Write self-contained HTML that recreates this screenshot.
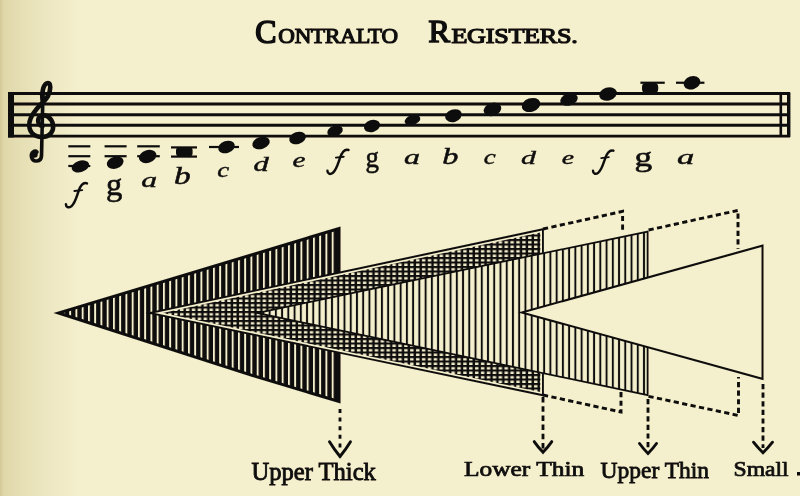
<!DOCTYPE html>
<html><head><meta charset="utf-8"><style>
html,body{margin:0;padding:0;width:800px;height:496px;overflow:hidden;background:#F4EFCD;}
svg{display:block;font-family:"Liberation Serif",serif;}
</style></head><body>
<svg width="800" height="496" viewBox="0 0 800 496"><defs>
<filter id="soft" x="-2%" y="-2%" width="104%" height="104%"><feGaussianBlur stdDeviation="0.4"/></filter>
<filter id="blur"><feGaussianBlur stdDeviation="0.8"/></filter>
<linearGradient id="lg" x1="0" x2="1" y1="0" y2="0">
 <stop offset="0" stop-color="#D3C896"/>
 <stop offset="0.05" stop-color="#E0D8AA"/>
 <stop offset="0.3" stop-color="#E7E0B6"/>
 <stop offset="0.6" stop-color="#EDE7C2"/>
 <stop offset="1" stop-color="#F4EFCD"/>
</linearGradient>
<pattern id="pThick" patternUnits="userSpaceOnUse" width="6.25" height="10" x="0.45">
 <rect x="-0.1" width="2.0" height="10" fill="#F4EFCD"/>
</pattern>
<pattern id="pCross" patternUnits="userSpaceOnUse" width="5.9" height="4.5" x="3.94" y="0.5">
 <rect width="5.9" height="4.5" fill="#F4EFCD"/>
 <rect x="2.5" width="2.5" height="4.5" fill="#0F0C0B"/>
 <rect width="5.9" height="2.1" fill="#0F0C0B"/>
</pattern>
<pattern id="pThin" patternUnits="userSpaceOnUse" width="6.24" height="10" x="3.94">
 <rect width="6.24" height="10" fill="#F4EFCD"/>
 <rect x="2.6" width="1.95" height="10" fill="#0F0C0B"/>
</pattern>
</defs>
<rect width="800" height="496" fill="#F4EFCD"/>
<rect width="80" height="496" fill="url(#lg)"/>
<g filter="url(#soft)">
<line x1="8" y1="93.5" x2="790" y2="93.5" stroke="#0F0C0B" stroke-width="2.9"/>
<line x1="8" y1="104" x2="790" y2="104" stroke="#0F0C0B" stroke-width="2.9"/>
<line x1="8" y1="114.8" x2="790" y2="114.8" stroke="#0F0C0B" stroke-width="2.9"/>
<line x1="8" y1="125.2" x2="790" y2="125.2" stroke="#0F0C0B" stroke-width="2.9"/>
<line x1="8" y1="136.1" x2="790" y2="136.1" stroke="#0F0C0B" stroke-width="2.9"/>
<rect x="8" y="92" width="6" height="45.5" fill="#0F0C0B"/>
<rect x="779.5" y="92.5" width="2.6" height="44.5" fill="#0F0C0B"/>
<rect x="787" y="92.5" width="3.4" height="44.5" fill="#0F0C0B"/>
<path d="M42.5 100 C41 92 44 83 48 83 C51 83 51 90 48 96 C44 103 32 110 29.5 122 C28 132 34 137 42 137 C50 137 54 131 53 125 C52 118 46 114 41 116 C37 118 37 125 42.5 126" fill="none" stroke="#0F0C0B" stroke-width="4.6" stroke-linecap="round"/>
<path d="M43 91 L41.5 156 C41 162 33 163 31.5 157 C30.5 152 35 150 37 152" fill="none" stroke="#0F0C0B" stroke-width="3.6" stroke-linecap="round"/>
<circle cx="34.5" cy="154.5" r="3.2" fill="#0F0C0B"/>
<circle cx="42.5" cy="125" r="2.2" fill="#0F0C0B"/>
<ellipse cx="80.4" cy="166.4" rx="9" ry="5.6" fill="#0F0C0B" transform="rotate(-18 80.4 166.4)"/>
<ellipse cx="115.2" cy="162.6" rx="8.6" ry="6" fill="#0F0C0B" transform="rotate(-18 115.2 162.6)"/>
<ellipse cx="147.7" cy="156.5" rx="9" ry="6.3" fill="#0F0C0B" transform="rotate(-18 147.7 156.5)"/>
<rect x="176" y="147" width="16.6" height="9.6" rx="3.5" fill="#0F0C0B"/>
<ellipse cx="226.5" cy="147" rx="8.5" ry="6" fill="#0F0C0B" transform="rotate(-18 226.5 147)"/>
<ellipse cx="261" cy="143" rx="9" ry="6" fill="#0F0C0B" transform="rotate(-18 261 143)"/>
<ellipse cx="297.5" cy="138" rx="8.5" ry="6" fill="#0F0C0B" transform="rotate(-18 297.5 138)"/>
<ellipse cx="335" cy="131" rx="8" ry="5.2" fill="#0F0C0B" transform="rotate(-18 335 131)"/>
<ellipse cx="372" cy="126" rx="8.3" ry="6" fill="#0F0C0B" transform="rotate(-18 372 126)"/>
<ellipse cx="412.5" cy="120" rx="8" ry="5" fill="#0F0C0B" transform="rotate(-18 412.5 120)"/>
<ellipse cx="453.5" cy="115.7" rx="8.5" ry="6.3" fill="#0F0C0B" transform="rotate(-18 453.5 115.7)"/>
<ellipse cx="492.5" cy="109.4" rx="9" ry="6.5" fill="#0F0C0B" transform="rotate(-18 492.5 109.4)"/>
<ellipse cx="531" cy="105" rx="9.5" ry="6.8" fill="#0F0C0B" transform="rotate(-18 531 105)"/>
<ellipse cx="569" cy="99.5" rx="9" ry="6" fill="#0F0C0B" transform="rotate(-18 569 99.5)"/>
<ellipse cx="608" cy="94" rx="9" ry="6.5" fill="#0F0C0B" transform="rotate(-18 608 94)"/>
<rect x="642" y="83" width="16.2" height="10" rx="4" fill="#0F0C0B"/>
<ellipse cx="692" cy="82.75" rx="8.5" ry="6.5" fill="#0F0C0B" transform="rotate(-18 692 82.75)"/>
<line x1="68.3" y1="146.3" x2="90.3" y2="146.3" stroke="#0F0C0B" stroke-width="2.2"/>
<line x1="68.3" y1="156.2" x2="90.3" y2="156.2" stroke="#0F0C0B" stroke-width="2.2"/>
<line x1="68.3" y1="166" x2="90.3" y2="166" stroke="#0F0C0B" stroke-width="2.2"/>
<line x1="104.6" y1="146.3" x2="126.6" y2="146.3" stroke="#0F0C0B" stroke-width="2.2"/>
<line x1="104.6" y1="156.2" x2="126.6" y2="156.2" stroke="#0F0C0B" stroke-width="2.2"/>
<line x1="137.2" y1="146.3" x2="159.8" y2="146.3" stroke="#0F0C0B" stroke-width="2.2"/>
<line x1="137.2" y1="156.2" x2="159.8" y2="156.2" stroke="#0F0C0B" stroke-width="2.2"/>
<line x1="171" y1="147.4" x2="197" y2="147.4" stroke="#0F0C0B" stroke-width="2.2"/>
<line x1="171" y1="156.6" x2="197" y2="156.6" stroke="#0F0C0B" stroke-width="2.2"/>
<line x1="209" y1="147" x2="239" y2="147" stroke="#0F0C0B" stroke-width="2.2"/>
<line x1="640.4" y1="82.75" x2="664.75" y2="82.75" stroke="#0F0C0B" stroke-width="2.2"/>
<line x1="676" y1="82.75" x2="704.4" y2="82.75" stroke="#0F0C0B" stroke-width="2.2"/>
<text x="0" y="0" font-size="100" font-family="Liberation Serif" stroke="#0F0C0B" stroke-width="2" fill="#0F0C0B" transform="matrix(0.32609 0 0 0.31467 106.022 194.677)">g</text>
<text x="0" y="0" font-size="100" font-family="Liberation Serif" font-style="italic" stroke="#0F0C0B" stroke-width="2" fill="#0F0C0B" transform="matrix(0.31667 0 0 0.21000 141.367 186.580)">a</text>
<text x="0" y="0" font-size="100" font-family="Liberation Serif" font-style="italic" stroke="#0F0C0B" stroke-width="2" fill="#0F0C0B" transform="matrix(0.33333 0 0 0.25000 174.000 183.500)">b</text>
<text x="0" y="0" font-size="100" font-family="Liberation Serif" font-style="italic" stroke="#0F0C0B" stroke-width="2" fill="#0F0C0B" transform="matrix(0.26786 0 0 0.20400 217.214 177.292)">c</text>
<text x="0" y="0" font-size="100" font-family="Liberation Serif" font-style="italic" stroke="#0F0C0B" stroke-width="2" fill="#0F0C0B" transform="matrix(0.30612 0 0 0.20833 253.388 170.583)">d</text>
<text x="0" y="0" font-size="100" font-family="Liberation Serif" font-style="italic" stroke="#0F0C0B" stroke-width="2" fill="#0F0C0B" transform="matrix(0.29268 0 0 0.22000 292.415 166.560)">e</text>
<text x="0" y="0" font-size="100" font-family="Liberation Serif" stroke="#0F0C0B" stroke-width="2" fill="#0F0C0B" transform="matrix(0.26957 0 0 0.28400 365.391 166.752)">g</text>
<text x="0" y="0" font-size="100" font-family="Liberation Serif" font-style="italic" stroke="#0F0C0B" stroke-width="2" fill="#0F0C0B" transform="matrix(0.32000 0 0 0.20700 404.060 164.336)">a</text>
<text x="0" y="0" font-size="100" font-family="Liberation Serif" font-style="italic" stroke="#0F0C0B" stroke-width="2" fill="#0F0C0B" transform="matrix(0.32222 0 0 0.22778 442.233 163.544)">b</text>
<text x="0" y="0" font-size="100" font-family="Liberation Serif" font-style="italic" stroke="#0F0C0B" stroke-width="2" fill="#0F0C0B" transform="matrix(0.26905 0 0 0.20700 483.862 164.186)">c</text>
<text x="0" y="0" font-size="100" font-family="Liberation Serif" font-style="italic" stroke="#0F0C0B" stroke-width="2" fill="#0F0C0B" transform="matrix(0.30000 0 0 0.18889 521.100 164.222)">d</text>
<text x="0" y="0" font-size="100" font-family="Liberation Serif" font-style="italic" stroke="#0F0C0B" stroke-width="2" fill="#0F0C0B" transform="matrix(0.27683 0 0 0.19500 561.846 163.610)">e</text>
<text x="0" y="0" font-size="100" font-family="Liberation Serif" stroke="#0F0C0B" stroke-width="2" fill="#0F0C0B" transform="matrix(0.35326 0 0 0.28000 634.440 165.840)">g</text>
<text x="0" y="0" font-size="100" font-family="Liberation Serif" font-style="italic" stroke="#0F0C0B" stroke-width="2" fill="#0F0C0B" transform="matrix(0.34556 0 0 0.20700 677.059 164.186)">a</text>
<text x="0" y="0" font-size="100" font-family="Liberation Serif" stroke="#0F0C0B" stroke-width="5" fill="#0F0C0B" transform="matrix(0.31774 0 0 0.33333 255.365 42.967)">C</text>
<text x="0" y="0" font-size="100" font-family="Liberation Serif" stroke="#0F0C0B" stroke-width="5.5" letter-spacing="-1" fill="#0F0C0B" transform="matrix(0.22973 0 0 0.21507 278.370 42.540)">ONTRALTO</text>
<text x="0" y="0" font-size="100" font-family="Liberation Serif" stroke="#0F0C0B" stroke-width="5" fill="#0F0C0B" transform="matrix(0.32174 0 0 0.31857 428.500 41.944)">R</text>
<text x="0" y="0" font-size="100" font-family="Liberation Serif" stroke="#0F0C0B" stroke-width="5.5" letter-spacing="-1" fill="#0F0C0B" transform="matrix(0.26146 0 0 0.21781 451.400 42.811)">EGISTERS.</text>
<text x="0" y="0" font-size="100" font-family="Liberation Serif" stroke="#0F0C0B" stroke-width="3.5" fill="#0F0C0B" transform="matrix(0.24537 0 0 0.24574 251.600 479.948)">Upper Thick</text>
<text x="0" y="0" font-size="100" font-family="Liberation Serif" stroke="#0F0C0B" stroke-width="3.5" fill="#0F0C0B" transform="matrix(0.25434 0 0 0.20068 463.996 476.148)">Lower Thin</text>
<text x="0" y="0" font-size="100" font-family="Liberation Serif" stroke="#0F0C0B" stroke-width="3.5" fill="#0F0C0B" transform="matrix(0.23485 0 0 0.23511 600.600 478.093)">Upper Thin</text>
<text x="0" y="0" font-size="100" font-family="Liberation Serif" stroke="#0F0C0B" stroke-width="3.5" fill="#0F0C0B" transform="matrix(0.23640 0 0 0.20533 733.518 475.979)">Small</text>
<g transform="matrix(1.0307 0 0 1.0385 64.5 182)"><path d="M21.8 1.3 C18.4 0.2 15.6 3.2 13.6 8.9 C11.6 14.6 10.2 20.4 6.7 23.3 C3.8 25.4 1.4 24.2 1.4 21.4" fill="none" stroke="#0F0C0B" stroke-width="2.4" stroke-linecap="round"/><path d="M9.6 8.7 L17.2 7.8" stroke="#0F0C0B" stroke-width="1.8" stroke-linecap="round"/></g>
<g transform="matrix(1.0307 0 0 1.0385 326 148.6)"><path d="M21.8 1.3 C18.4 0.2 15.6 3.2 13.6 8.9 C11.6 14.6 10.2 20.4 6.7 23.3 C3.8 25.4 1.4 24.2 1.4 21.4" fill="none" stroke="#0F0C0B" stroke-width="2.4" stroke-linecap="round"/><path d="M9.6 8.7 L17.2 7.8" stroke="#0F0C0B" stroke-width="1.8" stroke-linecap="round"/></g>
<g transform="matrix(1.0000 0 0 1.0000 591.6 149.4)"><path d="M21.8 1.3 C18.4 0.2 15.6 3.2 13.6 8.9 C11.6 14.6 10.2 20.4 6.7 23.3 C3.8 25.4 1.4 24.2 1.4 21.4" fill="none" stroke="#0F0C0B" stroke-width="2.4" stroke-linecap="round"/><path d="M9.6 8.7 L17.2 7.8" stroke="#0F0C0B" stroke-width="1.8" stroke-linecap="round"/></g>
<polygon points="53.50,313.00 340.50,226.50 340.50,403.50 250.00,376.30" fill="#0F0C0B"/>
<polygon points="63.58,313.10 337.50,230.54 337.50,399.47 250.89,373.44" fill="url(#pThick)"/>
<polygon points="145.39,313.02 543.90,228.03 543.90,396.45" fill="#0F0C0B"/>
<polygon points="154.58,313.00 542.00,230.38 542.00,394.12" fill="#F4EFCD"/>
<polygon points="162.80,312.99 540.30,232.48 540.30,392.02" fill="url(#pCross)"/>
<polygon points="253.00,313.00 360.00,290.50 648.50,230.50 648.50,396.30 360.00,335.50" fill="#0F0C0B"/>
<polygon points="261.75,313.00 360.37,292.26 646.70,232.71 646.70,394.08 360.37,333.74" fill="url(#pThin)"/>
<polygon points="518.00,312.50 763.50,244.30 763.50,380.20" fill="#0F0C0B"/>
<polygon points="525.50,312.49 761.50,246.93 761.50,377.57" fill="#F4EFCD"/>
<polyline points="543,229 622.6,211.4 622.6,232.5" fill="none" stroke="#0F0C0B" stroke-width="2.9" stroke-dasharray="5.2 3.4"/>
<polyline points="543,395 621,412 621,391.5" fill="none" stroke="#0F0C0B" stroke-width="2.9" stroke-dasharray="5.2 3.4"/>
<polyline points="648.6,230 738,210.4 738,248.75" fill="none" stroke="#0F0C0B" stroke-width="2.9" stroke-dasharray="5.2 3.4"/>
<polyline points="648.5,396.3 738.5,415.5 738.5,377" fill="none" stroke="#0F0C0B" stroke-width="2.9" stroke-dasharray="5.2 3.4"/>
<line x1="340" y1="409" x2="340" y2="452" fill="none" stroke="#0F0C0B" stroke-width="2.8" stroke-dasharray="4 4.6"/>
<path d="M329.5,441.7 Q334.225,449.40000000000003 340,456.5 Q345.775,449.40000000000003 350.5,441.7" fill="none" stroke="#0F0C0B" stroke-width="2.9" stroke-linejoin="miter" stroke-linecap="round"/>
<line x1="543" y1="397" x2="543" y2="449" fill="none" stroke="#0F0C0B" stroke-width="2.8" stroke-dasharray="5.5 3.7"/>
<path d="M534.2,441.6 Q538.16,447.25000000000006 543,452.3 Q547.84,447.25000000000006 551.8,441.6" fill="none" stroke="#0F0C0B" stroke-width="2.9" stroke-linejoin="miter" stroke-linecap="round"/>
<line x1="648" y1="399" x2="648" y2="449" fill="none" stroke="#0F0C0B" stroke-width="2.8" stroke-dasharray="5.2 3.4"/>
<path d="M639.5,443.5 Q643.325,448.8 648,453.5 Q652.675,448.8 656.5,443.5" fill="none" stroke="#0F0C0B" stroke-width="2.9" stroke-linejoin="miter" stroke-linecap="round"/>
<line x1="763" y1="384" x2="763" y2="448" fill="none" stroke="#0F0C0B" stroke-width="2.8" stroke-dasharray="5.2 3.4"/>
<path d="M753.5,442.2 Q757.775,447.75 763,452.7 Q768.225,447.75 772.5,442.2" fill="none" stroke="#0F0C0B" stroke-width="2.9" stroke-linejoin="miter" stroke-linecap="round"/>
<rect x="797" y="472" width="3" height="3.5" fill="#0F0C0B"/>
</g></svg>
</body></html>
